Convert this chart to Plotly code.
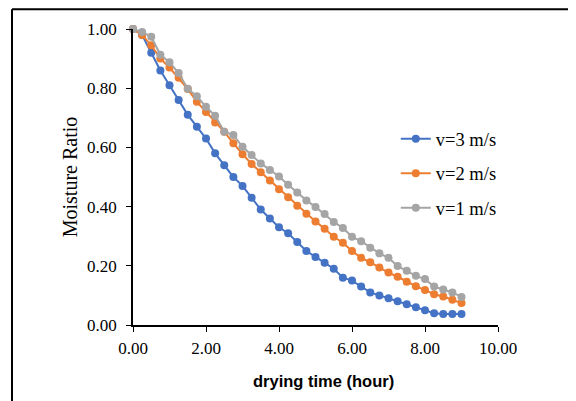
import plotly.graph_objects as go

time_h = [i * 0.25 for i in range(37)]
mr_v3 = [1.00, 0.98, 0.92, 0.86, 0.81, 0.76, 0.71, 0.67, 0.63, 0.58, 0.54, 0.50, 0.47,
         0.43, 0.39, 0.36, 0.33, 0.31, 0.28, 0.25, 0.23, 0.21, 0.19, 0.16, 0.15, 0.13,
         0.11, 0.10, 0.09, 0.08, 0.07, 0.06, 0.05, 0.04, 0.037, 0.037, 0.037]
mr_v2 = [1.00, 0.98, 0.945, 0.90, 0.87, 0.835, 0.797, 0.754, 0.72, 0.684, 0.653, 0.614, 0.577,
         0.544, 0.516, 0.488, 0.459, 0.432, 0.403, 0.376, 0.350, 0.325, 0.298, 0.278, 0.250,
         0.227, 0.212, 0.194, 0.177, 0.163, 0.146, 0.131, 0.118, 0.104, 0.096, 0.085, 0.074]
mr_v1 = [1.00, 0.99, 0.974, 0.913, 0.888, 0.851, 0.798, 0.773, 0.737, 0.707, 0.653, 0.642, 0.602,
         0.574, 0.546, 0.524, 0.502, 0.474, 0.448, 0.421, 0.399, 0.375, 0.348, 0.328, 0.298,
         0.283, 0.261, 0.242, 0.227, 0.199, 0.183, 0.166, 0.155, 0.130, 0.120, 0.110, 0.095]

series = [("v=3 m/s", mr_v3, "#4472C4"),
          ("v=2 m/s", mr_v2, "#ED7D31"),
          ("v=1 m/s", mr_v1, "#A5A5A5")]

x_ticks = [0, 2, 4, 6, 8, 10]
y_ticks = [0, 0.2, 0.4, 0.6, 0.8, 1.0]

fig = go.Figure()
for i, (name, ys, col) in enumerate(series):
    fig.add_trace(go.Scatter(
        x=time_h, y=ys, name=name, mode="lines+markers",
        line=dict(color=col, width=2),
        marker=dict(color=col, size=8, symbol="circle"),
        legendgroup=f"g{i}", cliponaxis=False,
    ))

serif = "Liberation Serif, Times New Roman, serif"
fig.update_layout(
    width=576, height=401,
    margin=dict(l=125, r=86, t=19, b=84),
    paper_bgcolor="white", plot_bgcolor="white",
    font=dict(family=serif, color="black", size=17),
    showlegend=True,
    legend=dict(
        x=0.72, y=0.692, xanchor="left", yanchor="top",
        bgcolor="rgba(0,0,0,0)", font=dict(family=serif, size=18.5, color="black"),
        traceorder="grouped", tracegroupgap=7.5, itemwidth=30,
    ),
    xaxis=dict(
        range=[0, 10], tickvals=x_ticks, ticktext=[f"{v:.2f}" for v in x_ticks],
        showline=True, linecolor="black", linewidth=1.5,
        ticks="outside", tickcolor="black", ticklen=5, showgrid=False, zeroline=False,
        tickfont=dict(family=serif, size=17), ticklabelstandoff=2,
    ),
    yaxis=dict(
        range=[0, 1.0], tickvals=y_ticks, ticktext=[f"{v:.2f}" for v in y_ticks],
        showline=True, linecolor="black", linewidth=1.5,
        ticks="outside", tickcolor="black", ticklen=5, showgrid=False, zeroline=False,
        tickfont=dict(family=serif, size=17), ticklabelstandoff=6,
        title=dict(text="Moisture Ratio", font=dict(family=serif, size=20), standoff=4),
    ),
    annotations=[
        dict(text="<b>drying time (hour)</b>", xref="paper", yref="paper",
             x=0.523, y=-0.188, xanchor="center", yanchor="middle", showarrow=False,
             font=dict(family="Liberation Sans, Arial, sans-serif", size=16.5, color="black")),
    ],
    shapes=[
        dict(type="line", xref="paper", yref="paper", x0=-0.3315, x1=1.3, y0=1.067, y1=1.067,
             line=dict(color="black", width=2)),
        dict(type="line", xref="paper", yref="paper", x0=-0.3315, x1=-0.3315, y0=1.067, y1=-0.35,
             line=dict(color="black", width=2)),
    ],
)

fig.write_html("out.html")
